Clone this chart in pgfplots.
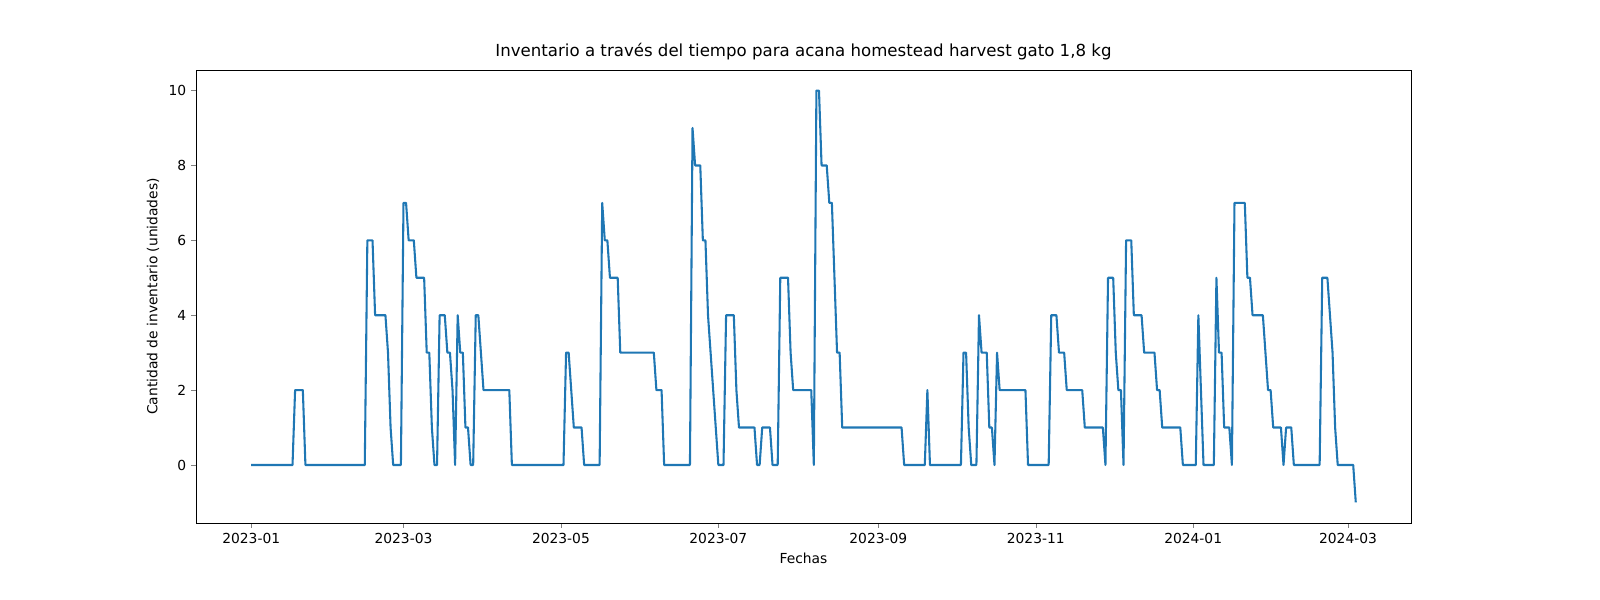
\documentclass[border=0pt]{standalone}
\usepackage{pgfplots}
\pgfplotsset{compat=1.18}
\usepackage{fontspec}
\setmainfont{DejaVu Sans}
\definecolor{c0}{HTML}{1F77B4}
\begin{document}
\begin{tikzpicture}
\begin{axis}[
  scale only axis, width=12.15in, height=4.53in,
  at={(0,0)}, anchor=south west,
  xmin=-21.4, xmax=449.4, ymin=-1.55, ymax=10.55,
  xtick={0,59,120,181,243,304,365,425},
  xticklabels={2023-01,2023-03,2023-05,2023-07,2023-09,2023-11,2024-01,2024-03},
  ytick={0,2,4,6,8,10},
  tick align=outside, xtick pos=bottom, ytick pos=left,
  major tick length=3.5pt,
  tick label style={font=\fontsize{10}{12}\selectfont},
  /pgf/number format/assume math mode=true,
  xlabel={Fechas}, ylabel={Cantidad de inventario (unidades)},
  label style={font=\fontsize{10}{12}\selectfont},
  title={Inventario a través del tiempo para acana homestead harvest gato 1,8 kg},
  title style={font=\fontsize{12}{14}\selectfont, yshift=-2pt},
  axis line style={line width=0.6pt},
]
\addplot[c0, line width=1.5pt, line join=round] coordinates {
(0,0)(16,0)(17,2)(20,2)(21,0)(44,0)(45,6)(47,6)(48,4)(52,4)(53,3)(54,1)(55,0)(58,0)(59,7)(60,7)(61,6)(63,6)(64,5)(67,5)(68,3)(69,3)(70,1)(71,0)(72,0)(73,4)(75,4)(76,3)(77,3)(78,2)(79,0)(80,4)(81,3)(82,3)(83,1)(84,1)(85,0)(86,0)(87,4)(88,4)(89,3)(90,2)(100,2)(101,0)
(121,0)(122,3)(123,3)(124,2)(125,1)(128,1)(129,0)(135,0)(136,7)(137,6)(138,6)(139,5)(142,5)(143,3)(156,3)(157,2)(159,2)(160,0)(170,0)(171,9)(172,8)(174,8)(175,6)(176,6)(177,4)(178,3)(179,2)(180,1)(181,0)(183,0)(184,4)(187,4)(188,2)(189,1)(195,1)(196,0)(197,0)(198,1)(201,1)(202,0)(204,0)(205,5)(208,5)(209,3)(210,2)(217,2)(218,0)(219,10)(220,10)(221,8)(223,8)(224,7)(225,7)(226,5)(227,3)(228,3)(229,1)
(252,1)(253,0)(261,0)(262,2)(263,0)(275,0)(276,3)(277,3)(278,1)(279,0)(281,0)(282,4)(283,3)(285,3)(286,1)(287,1)(288,0)(289,3)(290,2)(300,2)(301,0)(309,0)(310,4)(312,4)(313,3)(315,3)(316,2)(322,2)(323,1)
(330,1)(331,0)(332,5)(334,5)(335,3)(336,2)(337,2)(338,0)(339,6)(341,6)(342,4)(345,4)(346,3)(350,3)(351,2)(352,2)(353,1)(360,1)(361,0)(366,0)(367,4)(368,2)(369,0)(373,0)(374,5)(375,3)(376,3)(377,1)(379,1)(380,0)(381,7)(385,7)(386,5)(387,5)(388,4)(392,4)(393,3)(394,2)(395,2)(396,1)(399,1)(400,0)(401,1)(403,1)(404,0)(414,0)(415,5)(417,5)(418,4)(419,3)(420,1)(421,0)(427,0)(428,-1)
};
\path (rel axis cs:0,0) coordinate (bl);
\end{axis}
\pgfresetboundingbox
\path (bl) ++(-1.96in,-0.77in) rectangle ++(16in,6in);
\end{tikzpicture}
\end{document}
